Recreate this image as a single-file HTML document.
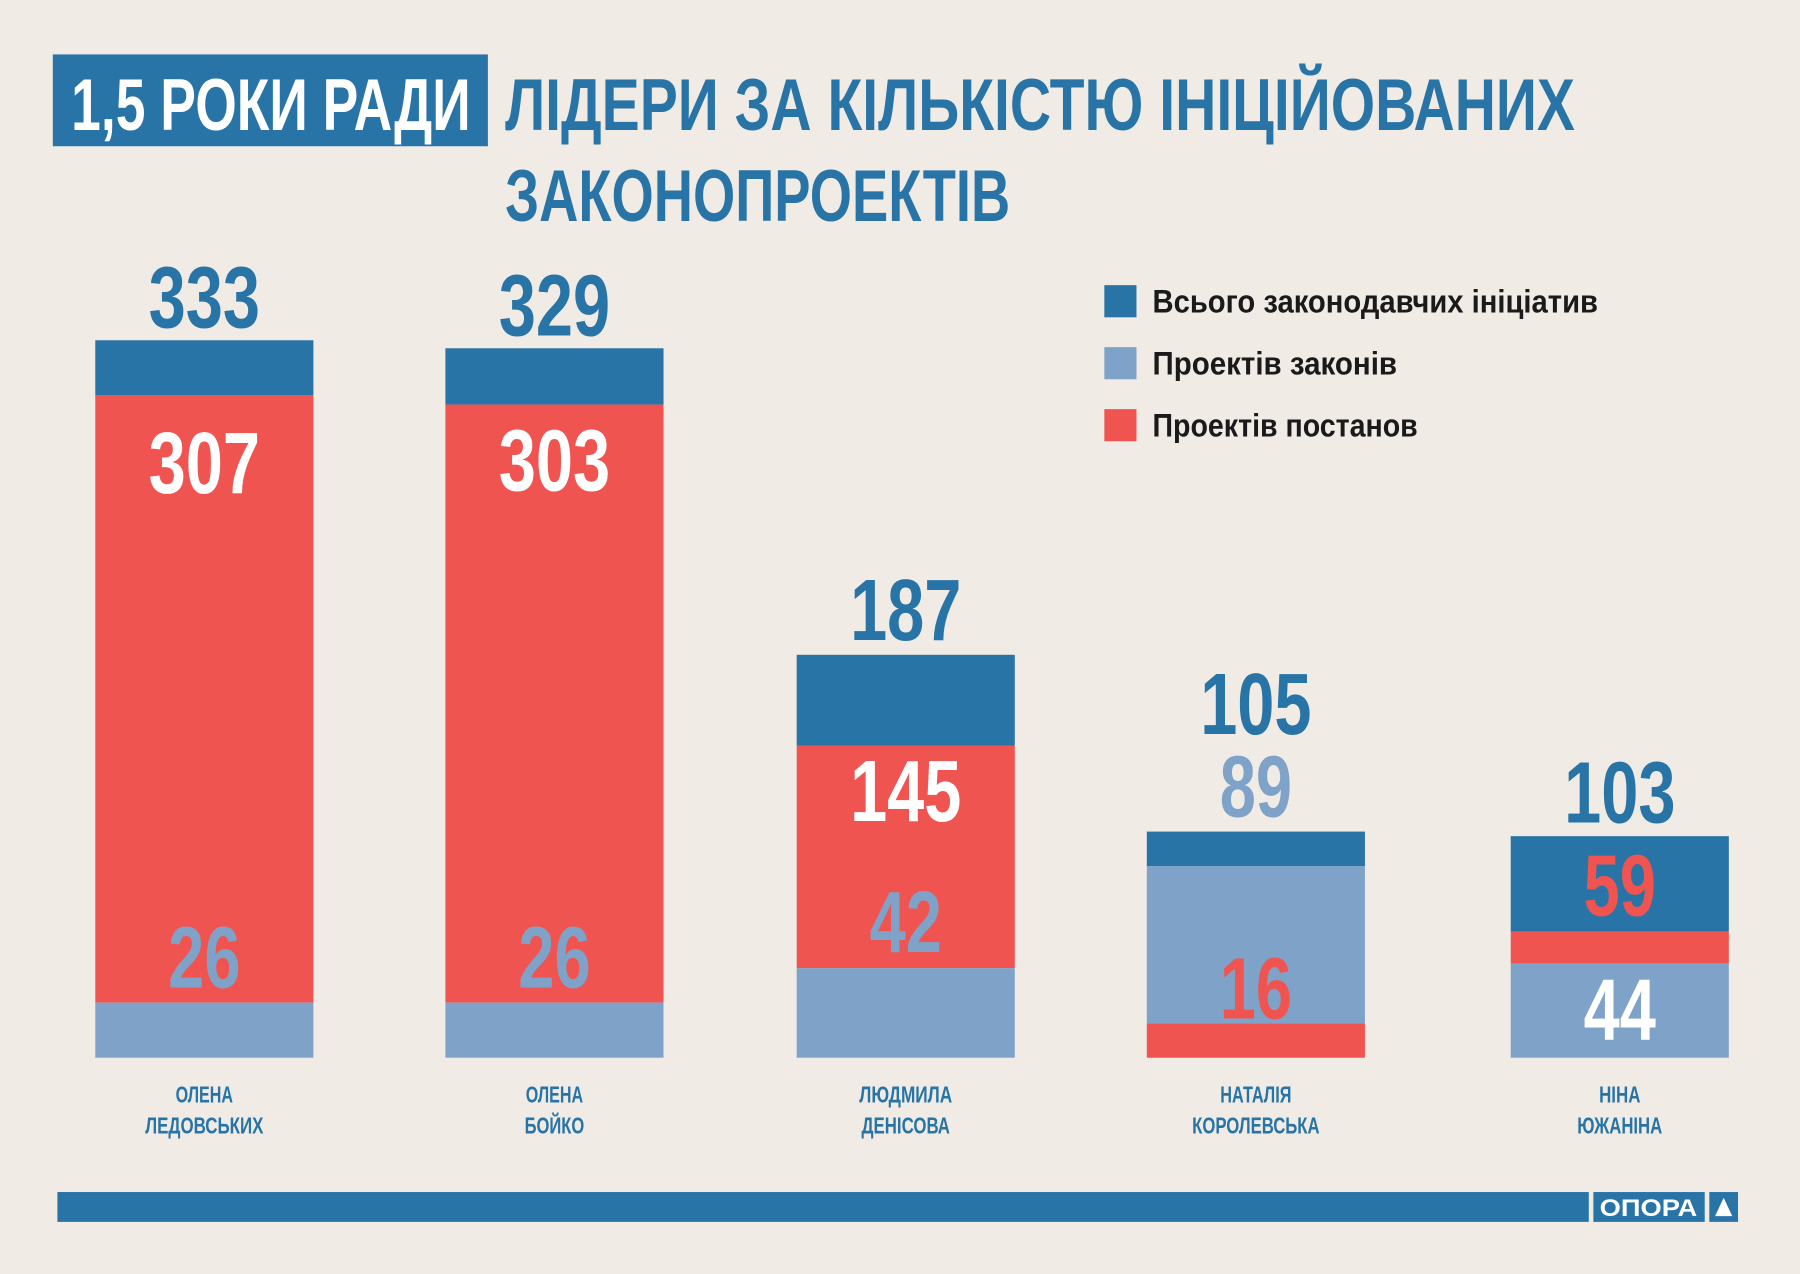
<!DOCTYPE html>
<html><head><meta charset="utf-8"><style>
html,body{margin:0;padding:0;background:#f0ebe5;}
svg{display:block;}
text{font-family:"Liberation Sans Narrow","Liberation Sans",sans-serif;font-weight:bold;}
</style></head><body>
<svg width="1800" height="1274" viewBox="0 0 1568 1109" xmlns="http://www.w3.org/2000/svg">
<rect width="1568" height="1109" fill="#f0ebe5"/>
<rect x="46" y="47" width="379" height="80" fill="#2874a6"/>
<text x="62" y="113" font-size="64" fill="#fff" textLength="348" lengthAdjust="spacingAndGlyphs">1,5 РОКИ РАДИ</text>
<text x="440" y="113" font-size="64" fill="#2874a6" textLength="932" lengthAdjust="spacingAndGlyphs">ЛІДЕРИ ЗА КІЛЬКІСТЮ ІНІЦІЙОВАНИХ</text>
<text x="440" y="192" font-size="64" fill="#2874a6" textLength="440" lengthAdjust="spacingAndGlyphs">ЗАКОНОПРОЕКТІВ</text>

<g font-size="76" text-anchor="middle">
<rect x="83" y="296" width="190" height="48" fill="#2874a6"/>
<rect x="83" y="344" width="190" height="529" fill="#f05451"/>
<rect x="83" y="873" width="190" height="48" fill="#7fa3c8"/>
<text x="178" y="285" fill="#2874a6" textLength="97" lengthAdjust="spacingAndGlyphs">333</text>
<text x="178" y="429" fill="#fff" textLength="97" lengthAdjust="spacingAndGlyphs">307</text>
<text x="178" y="860" fill="#7fa3c8" textLength="63" lengthAdjust="spacingAndGlyphs">26</text>
<rect x="388" y="303" width="190" height="49" fill="#2874a6"/>
<rect x="388" y="352" width="190" height="521" fill="#f05451"/>
<rect x="388" y="873" width="190" height="48" fill="#7fa3c8"/>
<text x="483" y="292" fill="#2874a6" textLength="97" lengthAdjust="spacingAndGlyphs">329</text>
<text x="483" y="427" fill="#fff" textLength="97" lengthAdjust="spacingAndGlyphs">303</text>
<text x="483" y="860" fill="#7fa3c8" textLength="63" lengthAdjust="spacingAndGlyphs">26</text>
<rect x="694" y="570" width="190" height="79" fill="#2874a6"/>
<rect x="694" y="649" width="190" height="194" fill="#f05451"/>
<rect x="694" y="843" width="190" height="78" fill="#7fa3c8"/>
<text x="789" y="557" fill="#2874a6" textLength="97" lengthAdjust="spacingAndGlyphs">187</text>
<text x="789" y="715" fill="#fff" textLength="97" lengthAdjust="spacingAndGlyphs">145</text>
<text x="789" y="829" fill="#7fa3c8" textLength="63" lengthAdjust="spacingAndGlyphs">42</text>
<rect x="999" y="724" width="190" height="30" fill="#2874a6"/>
<rect x="999" y="754" width="190" height="137" fill="#7fa3c8"/>
<rect x="999" y="891" width="190" height="30" fill="#f05451"/>
<text x="1094" y="639" fill="#2874a6" textLength="97" lengthAdjust="spacingAndGlyphs">105</text>
<text x="1094" y="711" fill="#7fa3c8" textLength="63" lengthAdjust="spacingAndGlyphs">89</text>
<text x="1094" y="887" fill="#f05451" textLength="63" lengthAdjust="spacingAndGlyphs">16</text>
<rect x="1316" y="728" width="190" height="83" fill="#2874a6"/>
<rect x="1316" y="811" width="190" height="28" fill="#f05451"/>
<rect x="1316" y="839" width="190" height="82" fill="#7fa3c8"/>
<text x="1411" y="716" fill="#2874a6" textLength="97" lengthAdjust="spacingAndGlyphs">103</text>
<text x="1411" y="797" fill="#f05451" textLength="63" lengthAdjust="spacingAndGlyphs">59</text>
<text x="1411" y="905" fill="#fff" textLength="63" lengthAdjust="spacingAndGlyphs">44</text>
</g>

<g font-size="20" fill="#2874a6" text-anchor="middle" lengthAdjust="spacingAndGlyphs">
<text x="178" y="960" textLength="50" lengthAdjust="spacingAndGlyphs">ОЛЕНА</text><text x="178" y="987" textLength="103" lengthAdjust="spacingAndGlyphs">ЛЕДОВСЬКИХ</text>
<text x="483" y="960" textLength="50" lengthAdjust="spacingAndGlyphs">ОЛЕНА</text><text x="483" y="987" textLength="52" lengthAdjust="spacingAndGlyphs">БОЙКО</text>
<text x="789" y="960" textLength="81" lengthAdjust="spacingAndGlyphs">ЛЮДМИЛА</text><text x="789" y="987" textLength="77" lengthAdjust="spacingAndGlyphs">ДЕНІСОВА</text>
<text x="1094" y="960" textLength="62" lengthAdjust="spacingAndGlyphs">НАТАЛІЯ</text><text x="1094" y="987" textLength="111" lengthAdjust="spacingAndGlyphs">КОРОЛЕВСЬКА</text>
<text x="1411" y="960" textLength="36" lengthAdjust="spacingAndGlyphs">НІНА</text><text x="1411" y="987" textLength="74" lengthAdjust="spacingAndGlyphs">ЮЖАНІНА</text>
</g>

<rect x="962" y="248" width="28" height="28" fill="#2874a6"/>
<rect x="962" y="302" width="28" height="28" fill="#7fa3c8"/>
<rect x="962" y="356" width="28" height="28" fill="#f05451"/>
<g font-size="28" fill="#1a1a1a">
<text x="1004" y="272" textLength="388" lengthAdjust="spacingAndGlyphs">Всього законодавчих ініціатив</text>
<text x="1004" y="326" textLength="213" lengthAdjust="spacingAndGlyphs">Проектів законів</text>
<text x="1004" y="380" textLength="231" lengthAdjust="spacingAndGlyphs">Проектів постанов</text>
</g>

<rect x="50" y="1038" width="1334" height="26" fill="#2874a6"/>
<rect x="1388" y="1038" width="97" height="26" fill="#2874a6"/>
<text x="1436" y="1059" font-size="21" fill="#fff" text-anchor="middle" font-family="Liberation Sans" textLength="85" lengthAdjust="spacingAndGlyphs">ОПОРА</text>
<rect x="1489" y="1038" width="25" height="26" fill="#2874a6"/>
<polygon points="1501.5,1043 1509,1059 1494,1059" fill="#fff"/>
</svg>
</body></html>
